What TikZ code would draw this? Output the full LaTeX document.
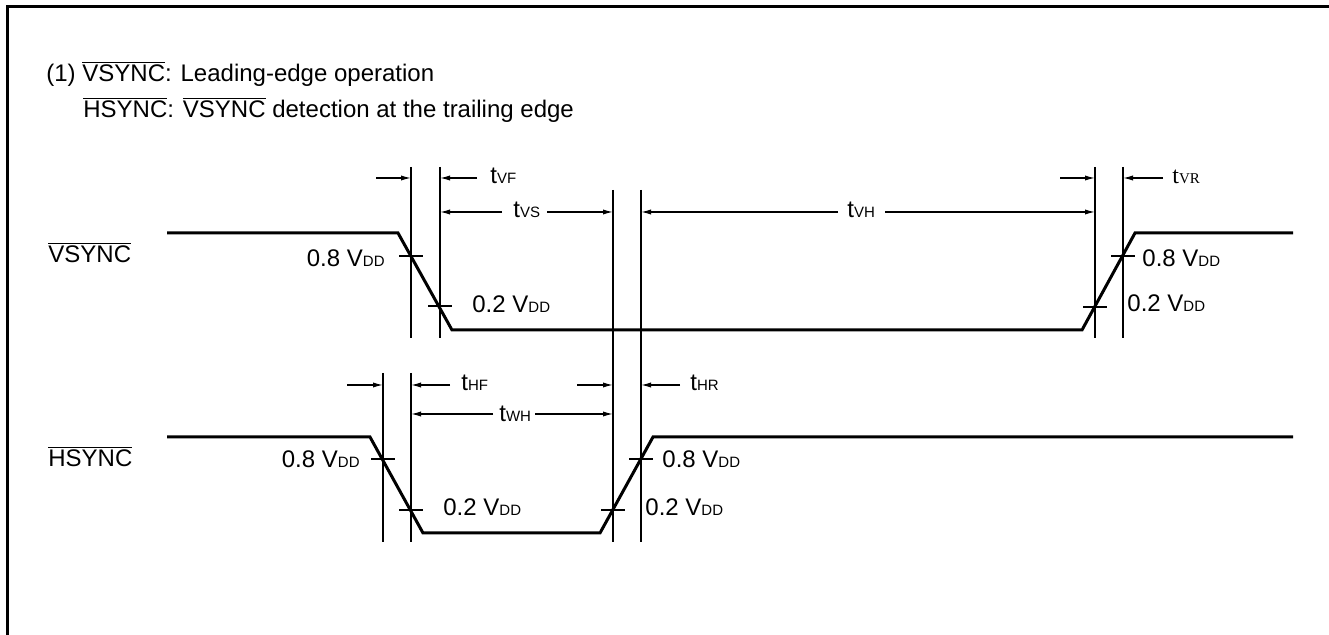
\documentclass[tikz,border=0pt]{standalone}
\usepackage{fontspec}
\setmainfont{Liberation Sans}
\newfontfamily\tmsfont{Liberation Serif}
\usetikzlibrary{arrows.meta}
\newcommand{\ovl}[1]{$\overline{\mbox{#1}}$}
\newcommand{\lo}[1]{{\fontsize{7.5}{8}\selectfont #1}}

\begin{document}
\begin{tikzpicture}[x=0.5pt, y=-0.5pt, font=\fontsize{12}{14}\selectfont,
    wave/.style={line width=1.5pt, line join=miter},
    guide/.style={line width=0.8pt},
    dim/.style={line width=0.6pt, -{Latex[length=5pt, width=2.6pt]}},
    lbl/.style={inner sep=0pt, anchor=base west},
    lbr/.style={inner sep=0pt, anchor=base east}]
        \useasboundingbox (0,0) rectangle (1329,635);
        \draw[line width=1.5pt] (1329,7) -- (7,7) -- (7,635);

        \node[lbl] (t1) at (46,82) {(1) \ovl{VSYNC}: Leading-edge operation};
        \node[lbl] (t2) at (83,118) {\ovl{HSYNC}: \ovl{VSYNC} detection at the trailing edge};
        \node[lbl] (vs) at (48,263) {\ovl{VSYNC}};
        \node[lbl] (hs) at (48,467) {\ovl{HSYNC}};

        \coordinate (v0) at (167,233);
        \coordinate (v1) at (398,233);
        \coordinate (v2) at (452,330);
        \coordinate (v3) at (1082,330);
        \coordinate (v4) at (1135,233);
        \coordinate (v5) at (1293,233);
        \coordinate (h0) at (167,437);
        \coordinate (h1) at (370,437);
        \coordinate (h2) at (423,533);
        \coordinate (h3) at (600,533);
        \coordinate (h4) at (653,437);
        \coordinate (h5) at (1293,437);

        \draw[wave] (v0) -- (v1) -- (v2) -- (v3) -- (v4) -- (v5);
        \draw[wave] (h0) -- (h1) -- (h2) -- (h3) -- (h4) -- (h5);

        \draw[guide] (411,167) -- (411,338);
        \draw[guide] (440,167) -- (440,338);
        \draw[guide] (1095,167) -- (1095,338);
        \draw[guide] (1123,167) -- (1123,338);
        \draw[guide] (613,190) -- (613,542);
        \draw[guide] (641,190) -- (641,542);
        \draw[guide] (383,373) -- (383,542);
        \draw[guide] (411,373) -- (411,542);

        \draw[guide] (399,256) -- (423,256);
        \draw[guide] (428,306) -- (452,306);
        \draw[guide] (1083,307) -- (1107,307);
        \draw[guide] (1111,256) -- (1135,256);
        \draw[guide] (371,459) -- (395,459);
        \draw[guide] (399,510) -- (423,510);
        \draw[guide] (601,510) -- (625,510);
        \draw[guide] (629,459) -- (653,459);

        \node[lbr] (v8) at (385,267) {0.8 V\lo{DD}};
        \node[lbl] (v2l) at (472,313) {0.2 V\lo{DD}};
        \node[lbl] (v8r) at (1142,267) {0.8 V\lo{DD}};
        \node[lbl] (v2r) at (1127,312) {0.2 V\lo{DD}};
        \node[lbr] (h8) at (360,468) {0.8 V\lo{DD}};
        \node[lbl] (h2l) at (443,516) {0.2 V\lo{DD}};
        \node[lbl] (h8r) at (662,468) {0.8 V\lo{DD}};
        \node[lbl] (h2r) at (645,516) {0.2 V\lo{DD}};

        \node[lbl] (tvf) at (490,184) {t\lo{VF}};
        \node[lbl] (tvs) at (513,218) {t\lo{VS}};
        \node[lbl] (tvh) at (847,218) {t\lo{VH}};
        \node[lbl, font=\tmsfont\fontsize{12}{14}\selectfont] (tvr) at (1172,184) {t\lo{VR}};
        \node[lbl] (thf) at (461,391) {t\lo{HF}};
        \node[lbl] (twh) at (499,422) {t\lo{WH}};
        \node[lbl] (thr) at (690,391) {t\lo{HR}};

        \coordinate (a1) at (376,178);  \coordinate (b1) at (411,178);
        \coordinate (a2) at (477,178);  \coordinate (b2) at (440,178);
        \coordinate (a3) at (502,212);  \coordinate (b3) at (440,212);
        \coordinate (a4) at (547,212);  \coordinate (b4) at (613,212);
        \coordinate (a5) at (838,212);  \coordinate (b5) at (641,212);
        \coordinate (a6) at (885,212);  \coordinate (b6) at (1095,212);
        \coordinate (a7) at (1060,178); \coordinate (b7) at (1095,178);
        \coordinate (a8) at (1163,178); \coordinate (b8) at (1123,178);
        \coordinate (a9) at (347,385);  \coordinate (b9) at (383,385);
        \coordinate (a10) at (450,385); \coordinate (b10) at (411,385);
        \coordinate (a11) at (493,414); \coordinate (b11) at (411,414);
        \coordinate (a12) at (535,414); \coordinate (b12) at (613,414);
        \coordinate (a13) at (577,385); \coordinate (b13) at (613,385);
        \coordinate (a14) at (680,385); \coordinate (b14) at (641,385);

        \foreach \i in {1,...,14}
          \draw[dim] (a\i) -- (b\i);
\end{tikzpicture}
\end{document}
